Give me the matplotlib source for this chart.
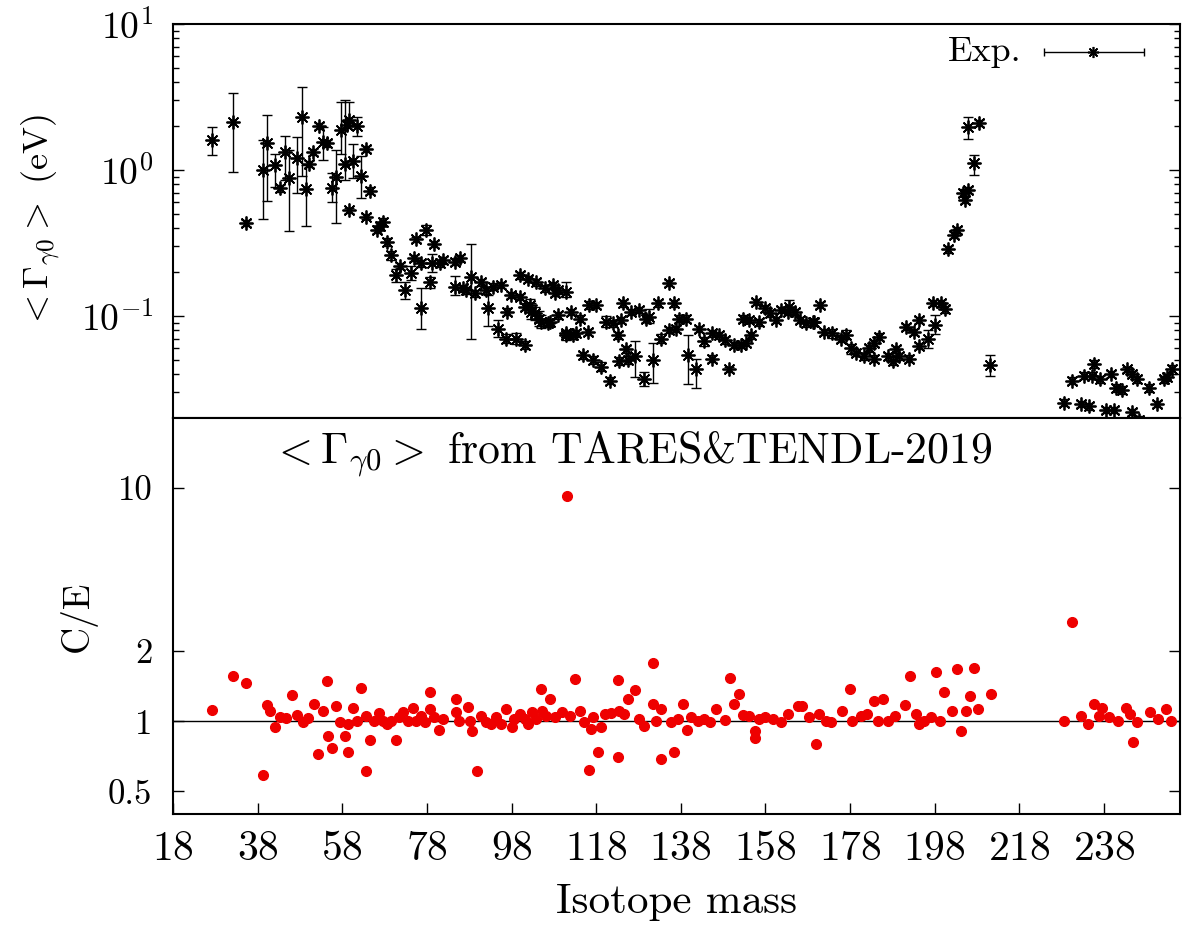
import numpy as np
import matplotlib
matplotlib.use('Agg')
import matplotlib.pyplot as plt
from matplotlib.ticker import FixedLocator, FixedFormatter, LogLocator, NullFormatter, NullLocator

plt.rcParams['font.family'] = 'cmr10'
plt.rcParams['mathtext.fontset'] = 'cm'
plt.rcParams['axes.formatter.use_mathtext'] = True

# experimental <Gamma_gamma0> (eV) with lower / upper errors
exp_mass = [27.1, 32.2, 35.2, 39.3, 40.1, 42.1, 43.3, 44.4, 45.5, 47.2,
            48.4, 49.4, 50.2, 51.1, 52.5, 53.5, 54.3, 55.5, 56.5, 57.6,
            58.6, 59.0, 59.5, 59.6, 60.5, 61.5, 62.5, 63.6, 63.6, 64.5,
            66.1, 66.9, 67.7, 68.6, 69.6, 70.8, 71.7, 72.8, 74.3, 74.9,
            75.5, 76.7, 76.7, 77.7, 78.8, 79.1, 79.6, 81.0, 81.8, 84.6,
            84.6, 85.8, 86.5, 87.3, 88.5, 89.3, 90.9, 92.0, 92.4, 93.6,
            94.8, 95.6, 96.8, 96.9, 97.9, 99.0, 99.9, 100.1, 101.1, 101.1,
            101.9, 102.3, 102.7, 103.7, 103.5, 104.6, 105.0, 105.8, 106.6, 107.0,
            107.8, 108.2, 109.0, 109.0, 110.9, 110.8, 110.9, 112.1, 112.5, 113.3,
            114.1, 114.9, 116.0, 116.3, 117.2, 118.0, 119.2, 120.4, 121.2, 122.0,
            123.1, 123.5, 123.9, 124.3, 125.0, 125.5, 126.2, 127.1, 128.2, 129.4,
            129.8, 130.6, 131.4, 132.6, 133.3, 135.3, 135.3, 136.5, 136.9, 137.7,
            139.3, 139.7, 141.5, 142.4, 143.6, 145.4, 145.5, 147.1, 148.5, 149.5,
            150.7, 152.3, 152.6, 153.4, 154.2, 154.6, 155.8, 156.6, 157.8, 159.0,
            160.5, 161.7, 163.3, 163.7, 164.9, 166.1, 167.6, 169.2, 169.6, 170.8,
            171.9, 173.8, 175.8, 177.0, 178.2, 179.5, 181.4, 182.5, 183.7, 183.7,
            184.9, 186.9, 188.1, 188.9, 189.7, 191.2, 192.0, 193.2, 194.2, 194.3,
            196.4, 197.6, 198.0, 199.5, 200.5, 201.2, 202.5, 203.4, 204.7, 205.1,
            206.0, 206.0, 207.3, 208.4, 211.2, 228.6, 230.5, 232.5, 233.3, 234.5,
            235.3, 235.7, 237.2, 238.4, 239.6, 240.4, 240.8, 242.3, 243.5, 244.7,
            244.7, 245.9, 246.3, 248.6, 250.6, 252.2, 253.0, 254.2]
exp_gamma = [1.60, 2.14, 0.435, 1.00, 1.52, 1.08, 0.75, 1.33, 0.88, 1.20,
             2.32, 0.74, 1.10, 1.33, 2.00, 1.56, 1.52, 0.75, 0.90, 1.88,
             1.10, 2.03, 0.53, 2.20, 1.16, 2.00, 0.91, 1.39, 0.48, 0.72,
             0.39, 0.41, 0.44, 0.32, 0.26, 0.19, 0.22, 0.15, 0.196, 0.25,
             0.335, 0.113, 0.23, 0.39, 0.17, 0.23, 0.31, 0.23, 0.24, 0.235,
             0.159, 0.25, 0.155, 0.15, 0.186, 0.143, 0.17, 0.15, 0.113, 0.159,
             0.082, 0.163, 0.070, 0.107, 0.14, 0.070, 0.19, 0.135, 0.063, 0.116,
             0.18, 0.119, 0.107, 0.17, 0.104, 0.096, 0.091, 0.155, 0.089, 0.091,
             0.163, 0.143, 0.101, 0.15, 0.147, 0.076, 0.074, 0.107, 0.074, 0.076,
             0.096, 0.054, 0.078, 0.119, 0.050, 0.119, 0.045, 0.091, 0.036, 0.089,
             0.074, 0.049, 0.094, 0.122, 0.059, 0.050, 0.107, 0.053, 0.110, 0.037,
             0.096, 0.098, 0.050, 0.122, 0.070, 0.168, 0.080, 0.122, 0.082, 0.096,
             0.096, 0.054, 0.043, 0.082, 0.067, 0.076, 0.051, 0.074, 0.068, 0.043,
             0.063, 0.063, 0.096, 0.065, 0.094, 0.074, 0.125, 0.091, 0.113, 0.104,
             0.094, 0.110, 0.107, 0.116, 0.107, 0.094, 0.089, 0.091, 0.091, 0.119,
             0.078, 0.076, 0.070, 0.074, 0.060, 0.056, 0.053, 0.060, 0.051, 0.065,
             0.072, 0.053, 0.049, 0.059, 0.053, 0.084, 0.051, 0.078, 0.062, 0.094,
             0.070, 0.123, 0.087, 0.122, 0.111, 0.286, 0.359, 0.388, 0.70, 0.62,
             0.73, 1.98, 1.11, 2.11, 0.046, 0.0255, 0.036, 0.025, 0.039, 0.024,
             0.039, 0.047, 0.037, 0.0227, 0.040, 0.0227, 0.032, 0.031, 0.043, 0.040,
             0.022, 0.037, 0.0195, 0.032, 0.025, 0.037, 0.038, 0.043]
exp_err_lo = [0.33, 1.17, 0.02, 0.54, 0.91, 0.32, 0.04, 0.48, 0.50, 0.50,
              1.41, 0.33, 0.06, 0.07, 0.10, 0.39, 0.08, 0.15, 0.47, 0.60,
              0.25, 0.10, 0.02, 0.20, 0.28, 0.29, 0.27, 0.07, 0.02, 0.04,
              0.02, 0.02, 0.03, 0.02, 0.02, 0.02, 0.01, 0.02, 0.02, 0.012,
              0.015, 0.032, 0.012, 0.03, 0.015, 0.03, 0.015, 0.012, 0.012, 0.012,
              0.02, 0.012, 0.008, 0.008, 0.117, 0.008, 0.009, 0.008, 0.028, 0.008,
              0.01, 0.008, 0.005, 0.006, 0.007, 0.006, 0.01, 0.007, 0.004, 0.006,
              0.009, 0.01, 0.012, 0.009, 0.01, 0.01, 0.008, 0.008, 0.005, 0.005,
              0.008, 0.007, 0.005, 0.008, 0.012, 0.004, 0.006, 0.005, 0.004, 0.004,
              0.005, 0.003, 0.004, 0.007, 0.003, 0.006, 0.003, 0.007, 0.002, 0.005,
              0.004, 0.003, 0.005, 0.006, 0.003, 0.003, 0.005, 0.015, 0.006, 0.004,
              0.005, 0.008, 0.015, 0.006, 0.005, 0.008, 0.004, 0.006, 0.004, 0.005,
              0.005, 0.02, 0.011, 0.004, 0.005, 0.004, 0.003, 0.004, 0.004, 0.002,
              0.003, 0.003, 0.005, 0.003, 0.005, 0.004, 0.006, 0.005, 0.006, 0.005,
              0.005, 0.006, 0.005, 0.006, 0.005, 0.005, 0.005, 0.005, 0.005, 0.006,
              0.004, 0.005, 0.004, 0.004, 0.005, 0.003, 0.003, 0.003, 0.003, 0.003,
              0.004, 0.003, 0.003, 0.003, 0.003, 0.004, 0.003, 0.004, 0.003, 0.005,
              0.01, 0.006, 0.012, 0.006, 0.006, 0.015, 0.018, 0.02, 0.035, 0.03,
              0.04, 0.36, 0.19, 0.10, 0.007, 0.0013, 0.002, 0.0013, 0.002, 0.0012,
              0.002, 0.003, 0.002, 0.0012, 0.002, 0.0012, 0.002, 0.002, 0.002, 0.002,
              0.0011, 0.002, 0.001, 0.002, 0.0013, 0.002, 0.002, 0.003]
exp_err_hi = [0.37, 1.21, 0.02, 0.60, 0.86, 0.21, 0.04, 0.38, 0.50, 0.48,
              1.40, 0.34, 0.06, 0.07, 0.10, 0.40, 0.08, 0.20, 0.47, 1.06,
              1.90, 0.10, 0.02, 0.70, 0.35, 0.32, 0.33, 0.07, 0.02, 0.04,
              0.02, 0.02, 0.03, 0.02, 0.02, 0.02, 0.01, 0.02, 0.025, 0.012,
              0.015, 0.042, 0.012, 0.03, 0.015, 0.035, 0.015, 0.012, 0.012, 0.012,
              0.03, 0.012, 0.008, 0.008, 0.124, 0.008, 0.009, 0.008, 0.027, 0.008,
              0.012, 0.008, 0.005, 0.006, 0.007, 0.006, 0.01, 0.007, 0.004, 0.006,
              0.009, 0.012, 0.015, 0.009, 0.012, 0.012, 0.01, 0.008, 0.005, 0.005,
              0.008, 0.007, 0.005, 0.008, 0.025, 0.004, 0.006, 0.005, 0.004, 0.004,
              0.005, 0.003, 0.004, 0.008, 0.003, 0.006, 0.003, 0.009, 0.002, 0.005,
              0.004, 0.003, 0.005, 0.006, 0.003, 0.003, 0.005, 0.014, 0.006, 0.004,
              0.005, 0.014, 0.015, 0.006, 0.005, 0.008, 0.004, 0.006, 0.004, 0.005,
              0.005, 0.02, 0.008, 0.004, 0.005, 0.004, 0.003, 0.004, 0.004, 0.002,
              0.003, 0.003, 0.005, 0.003, 0.005, 0.004, 0.006, 0.005, 0.006, 0.005,
              0.005, 0.006, 0.005, 0.012, 0.005, 0.005, 0.005, 0.005, 0.005, 0.006,
              0.004, 0.006, 0.004, 0.006, 0.004, 0.003, 0.003, 0.003, 0.003, 0.003,
              0.004, 0.003, 0.003, 0.003, 0.003, 0.004, 0.003, 0.004, 0.003, 0.005,
              0.01, 0.006, 0.015, 0.006, 0.006, 0.015, 0.018, 0.02, 0.035, 0.03,
              0.04, 0.34, 0.16, 0.10, 0.008, 0.0013, 0.002, 0.0013, 0.002, 0.0012,
              0.002, 0.003, 0.002, 0.0012, 0.002, 0.0012, 0.002, 0.002, 0.002, 0.002,
              0.0011, 0.002, 0.001, 0.002, 0.0013, 0.002, 0.002, 0.003]

# calculated / experimental ratio
ce_mass = [27.1, 32.2, 35.2, 39.3, 40.1, 40.9, 42.2, 43.3, 44.8, 46.2,
           47.2, 48.6, 49.9, 51.3, 52.3, 53.5, 54.4, 54.7, 55.5, 56.5,
           57.4, 58.6, 59.4, 59.4, 60.6, 61.5, 62.5, 63.6, 63.6, 64.5,
           65.4, 66.7, 67.6, 68.6, 69.6, 70.6, 71.4, 72.4, 73.5, 74.7,
           75.5, 76.7, 77.5, 78.8, 78.8, 79.6, 80.9, 81.8, 84.8, 84.8,
           85.7, 87.7, 88.1, 88.7, 89.8, 90.8, 92.0, 93.2, 94.4, 95.6,
           96.8, 98.0, 98.7, 99.9, 101.1, 101.9, 102.9, 103.8, 105.0, 105.3,
           106.2, 107.0, 108.2, 110.0, 111.1, 111.9, 113.1, 114.1, 115.2, 116.3,
           116.8, 117.2, 118.4, 119.2, 120.0, 121.5, 123.1, 123.1, 123.5, 124.7,
           125.5, 127.3, 128.1, 129.4, 131.4, 131.4, 132.2, 133.3, 133.3, 135.6,
           136.4, 137.4, 138.5, 139.5, 140.5, 142.1, 143.4, 145.0, 146.4, 148.5,
           149.6, 150.7, 151.7, 152.7, 154.2, 155.6, 155.6, 156.4, 158.0, 159.9,
           161.7, 163.3, 165.8, 166.6, 168.2, 169.9, 170.7, 172.3, 173.5, 176.0,
           177.9, 178.4, 180.5, 182.1, 183.7, 184.6, 185.8, 187.0, 188.6, 191.1,
           192.1, 193.5, 194.3, 195.6, 197.2, 198.3, 199.2, 200.3, 202.1, 203.3,
           204.3, 205.4, 206.4, 207.2, 208.2, 211.3, 228.5, 230.5, 232.7, 234.3,
           235.6, 236.8, 237.6, 239.2, 241.3, 243.3, 244.1, 244.9, 245.8, 248.9,
           250.7, 252.7, 253.9]
ce_ratio = [1.12, 1.57, 1.46, 0.59, 1.17, 1.11, 0.94, 1.04, 1.03, 1.29,
            1.06, 0.99, 1.03, 1.18, 0.72, 1.11, 1.49, 0.86, 0.77, 1.16,
            0.99, 0.86, 0.74, 0.97, 1.14, 1.00, 1.39, 0.61, 1.05, 0.83,
            1.00, 1.08, 1.00, 0.97, 1.00, 0.83, 1.04, 1.10, 1.00, 1.14,
            1.00, 1.05, 0.99, 1.34, 1.13, 1.04, 0.92, 1.02, 1.24, 1.09,
            1.00, 1.15, 1.00, 0.91, 0.61, 1.05, 0.99, 0.97, 1.04, 0.97,
            1.13, 0.94, 1.02, 1.07, 1.02, 0.97, 1.09, 1.02, 1.38, 1.11,
            1.05, 1.24, 1.04, 1.09, 9.21, 1.05, 1.51, 1.11, 0.99, 0.62,
            0.93, 1.04, 0.74, 0.94, 1.07, 1.08, 1.50, 0.70, 1.11, 1.07,
            1.24, 1.36, 1.02, 0.95, 1.77, 1.18, 1.00, 0.69, 1.13, 0.99,
            0.74, 1.02, 1.18, 0.92, 1.04, 1.00, 1.02, 0.99, 1.13, 1.01,
            1.54, 1.18, 1.31, 1.06, 1.05, 0.91, 0.85, 1.02, 1.04, 1.02,
            0.99, 1.07, 1.16, 1.16, 1.04, 0.80, 1.07, 1.00, 0.99, 1.11,
            1.38, 1.00, 1.05, 1.07, 1.22, 1.00, 1.24, 1.00, 1.05, 1.17,
            1.57, 1.07, 0.97, 1.00, 1.04, 1.63, 1.00, 1.34, 1.11, 1.67,
            0.91, 1.11, 1.28, 1.70, 1.13, 1.31, 1.00, 2.67, 1.05, 0.97,
            1.19, 1.05, 1.14, 1.04, 1.00, 1.14, 1.07, 0.815, 0.99, 1.09,
            1.02, 1.13, 1.00]

x_ticks = [18, 38, 58, 78, 98, 118, 138, 158, 178, 198, 218, 238]
ce_ticks = [0.5, 1, 2, 10]
ce_tick_labels = ['0.5', '1', '2', '10']

fig = plt.figure(figsize=(11.82, 9.26), dpi=100)
ax1 = fig.add_axes([0.1464, 0.5486, 0.8519, 0.4255])
ax2 = fig.add_axes([0.1464, 0.1210, 0.8519, 0.4276])

asterisk = (8, 2, 0)

# top panel
ax1.errorbar(exp_mass, exp_gamma, yerr=[exp_err_lo, exp_err_hi], fmt='none',
             ecolor='black', elinewidth=1.0, capsize=3.5, capthick=1.0, clip_on=False)
ax1.plot(exp_mass, exp_gamma, ls='none', marker=asterisk, ms=10, mec='black',
         mew=1.3, clip_on=False)
ax1.set_yscale('log')
ax1.set_xlim(18, 256)
ax1.set_ylim(0.02, 10)
ax1.yaxis.set_major_locator(LogLocator(base=10, numticks=10))
ax1.yaxis.set_minor_locator(LogLocator(base=10, subs=np.arange(2, 10), numticks=10))
ax1.yaxis.set_minor_formatter(NullFormatter())
ax1.tick_params(axis='x', which='both', bottom=False, top=False, labelbottom=False)
ax1.tick_params(axis='y', which='both', direction='in', left=True, right=True, labelsize=27, pad=14)
ax1.tick_params(axis='y', which='major', length=8, width=1)
ax1.tick_params(axis='y', which='minor', length=4, width=1)
ax1.set_ylabel(r'$<\Gamma_{\gamma0}>$ (eV)', fontsize=26)
ax1.yaxis.set_label_coords(-0.110, 0.5)

# legend drawn like the gnuplot key
ax1.text(0.843, 0.929, 'Exp.', transform=ax1.transAxes, ha='right', va='center', fontsize=26)
ax1.errorbar([0.914], [0.929], xerr=[[0.049], [0.05]], transform=ax1.transAxes,
             fmt='none', ecolor='black', elinewidth=1.0, capsize=3, capthick=1.0)
ax1.plot([0.914], [0.929], transform=ax1.transAxes, ls='none', marker=asterisk,
         ms=8, mec='black', mew=1.2)

# bottom panel
ax2.axhline(1, color='black', lw=1.0, zorder=1)
ax2.plot(ce_mass, ce_ratio, ls='none', marker='o', ms=7, color='#ee0000', mec='#ee0000', zorder=2)
ax2.set_yscale('log')
ax2.set_xlim(18, 256)
ax2.set_ylim(0.4, 20)
ax2.yaxis.set_major_locator(FixedLocator(ce_ticks))
ax2.yaxis.set_major_formatter(FixedFormatter(ce_tick_labels))
ax2.yaxis.set_minor_locator(NullLocator())
ax2.xaxis.set_major_locator(FixedLocator(x_ticks))
ax2.xaxis.set_minor_locator(NullLocator())
ax2.tick_params(axis='x', which='major', direction='in', bottom=True, top=False,
                length=8, width=1, labelsize=30, pad=12)
ax2.tick_params(axis='y', which='major', direction='in', left=True, right=True,
                length=8, width=1, labelsize=25, pad=15)
ax2.set_ylabel('C/E', fontsize=27)
ax2.yaxis.set_label_coords(-0.0755, 0.5)
ax2.set_xlabel('Isotope mass', fontsize=31)
ax2.xaxis.set_label_coords(0.5, -0.175)
ax2.text(0.456, 0.907, r'$<\Gamma_{\gamma0}>$ from TARES&TENDL-2019',
         transform=ax2.transAxes, ha='center', va='center', fontsize=31.5)

for ax in (ax1, ax2):
    for s in ax.spines.values():
        s.set_linewidth(1.5)

fig.savefig('out.png', dpi=100)
